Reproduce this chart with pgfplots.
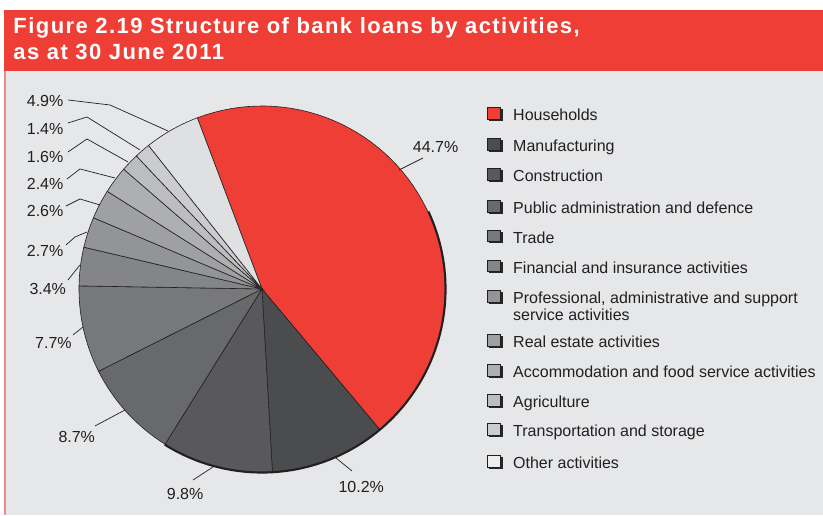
\documentclass[border=0pt]{standalone}
\usepackage{pgfplots}
\pgfplotsset{compat=1.18}
\usepackage{pgfplotstable}
\usepackage{fontspec}
\setmainfont{Liberation Sans}
\newfontfamily\titlefont[LetterSpace=6.5]{Liberation Sans}

\definecolor{titlered}{HTML}{EE3E35}
\definecolor{bodybg}{HTML}{E6E7E8}
\definecolor{pinkline}{HTML}{F08A8A}
\definecolor{txt}{HTML}{231F20}
\definecolor{pieline}{HTML}{231F20}
\definecolor{cHH}{HTML}{EE3E35}
\definecolor{cMA}{HTML}{4B4C4E}
\definecolor{cCO}{HTML}{59595B}
\definecolor{cPA}{HTML}{68696B}
\definecolor{cTR}{HTML}{77787A}
\definecolor{cFI}{HTML}{848587}
\definecolor{cPR}{HTML}{939496}
\definecolor{cRE}{HTML}{9FA0A2}
\definecolor{cAC}{HTML}{AEAFB1}
\definecolor{cAG}{HTML}{BCBDBF}
\definecolor{cTS}{HTML}{CBCCCE}
\definecolor{cOT}{HTML}{DFE0E2}
\definecolor{cOTleg}{HTML}{EDEDEE}

% share of bank loans by activity, %
\pgfplotstableread[col sep=comma]{
sector,value,col
Households,44.7,cHH
Manufacturing,10.2,cMA
Construction,9.8,cCO
PublicAdmin,8.7,cPA
Trade,7.7,cTR
Financial,3.4,cFI
Professional,2.7,cPR
RealEstate,2.6,cRE
Accommodation,2.4,cAC
Agriculture,1.6,cAG
Transportation,1.4,cTS
Other,4.9,cOT
}\piedata

\begin{document}
\begin{tikzpicture}
% background and title bar (1 unit = 1bp = 1 px of the reference)
\begin{scope}[x=1bp,y=1bp]
\fill[white] (0,0) rectangle (823,516);
\fill[titlered] (4.3,506) rectangle (823,445);
\fill[bodybg] (6,445) rectangle (823,1);
\fill[pinkline] (4.3,445) rectangle (6,1);
\node[anchor=base west, text=white, inner sep=0pt,
      font=\titlefont\bfseries\fontsize{22bp}{24bp}\selectfont] at (13.3,482.7)
      {Figure 2.19 Structure of bank loans by activities,};
\node[anchor=base west, text=white, inner sep=0pt,
      font=\titlefont\bfseries\fontsize{22bp}{24bp}\selectfont] at (13.3,456.5)
      {as at 30 June 2011};
\end{scope}
\begin{axis}[at={(0,0)}, anchor=south west,
  width=823bp, height=516bp, scale only axis,
  xmin=0, xmax=823, ymin=0, ymax=516,
  hide axis, clip=false]
\pgfplotstablegetrowsof{\piedata}
\pgfmathtruncatemacro\lastrow{\pgfplotsretval-1}
\def\cum{0}
\pgfplotsforeachungrouped \i in {0,...,\lastrow}{%
  \pgfplotstablegetelem{\i}{value}\of\piedata
  \let\myval\pgfplotsretval
  \pgfplotstablegetelem{\i}{col}\of\piedata
  \let\mycol\pgfplotsretval
  \pgfmathsetmacro\aS{110.7-\cum*3.5964036}
  \pgfmathsetmacro\aE{110.7-(\cum+\myval)*3.5964036}
  \pgfmathsetmacro\cum{\cum+\myval}
  \edef\temp{\noexpand\addplot[fill=\mycol, draw=pieline, line width=0.6bp,
     domain=\aE:\aS, samples=60]
     ({262+183*cos(x)},{227+183*sin(x)}) -- (262,227) -- cycle;}
  \temp
}
% darker rim at lower right
\addplot[draw=pieline, line width=2bp, domain=-122:25, samples=80]
  ({262+183.6*cos(x)},{227+183.6*sin(x)});

% leader lines
\begin{scope}[draw=pieline, line width=0.7bp]
\draw (68,416) -- (110,411) -- (168,385);
\draw (68,393) -- (87,399) -- (140,366);
\draw (68,364) -- (87,377) -- (128,354);
\draw (67,337) -- (80,347) -- (115,338);
\draw (66,310) -- (80,317) -- (100,311);
\draw (66,271) -- (75,279) -- (87,284);
\draw (68,236) -- (80,251);
\draw (73,181) -- (83,189);
\draw (95,90) -- (125,106);
\draw (193,36) -- (213,49);
\draw (352,45) -- (336,58);
\draw (423,358) -- (399,346);
\end{scope}

% slice labels
\begin{scope}[every node/.style={anchor=base west, inner sep=0pt, text=txt,
   font=\fontsize{16bp}{19bp}\selectfont}]
\node at (26.7,409.3) {4.9\%};
\node at (26.7,381.7) {1.4\%};
\node at (26.7,353.3) {1.6\%};
\node at (26.7,326.7) {2.4\%};
\node at (26.7,299) {2.6\%};
\node at (26.7,259.3) {2.7\%};
\node at (29.3,221) {3.4\%};
\node at (35,167.7) {7.7\%};
\node at (58.3,73.3) {8.7\%};
\node at (166.7,16.7) {9.8\%};
\node at (338.3,23.3) {10.2\%};
\node at (412.7,363.7) {44.7\%};
\end{scope}
\end{axis}

% legend
\begin{scope}[x=1bp,y=1bp, every node/.style={anchor=base west, inner sep=0pt, text=txt,
   font=\fontsize{16bp}{19bp}\selectfont}]
\foreach \b/\c/\t in {
  121/cHH/Households,
  151.7/cMA/Manufacturing,
  181.7/cCO/Construction,
  214/cPA/Public administration and defence,
  243.3/cTR/Trade,
  273.3/cFI/Financial and insurance activities,
  304/cPR/{Professional, administrative and support},
  347.7/cRE/Real estate activities,
  377.7/cAC/Accommodation and food service activities,
  407.7/cAG/Agriculture,
  436.7/cTS/Transportation and storage,
  469/cOTleg/Other activities}{
  \pgfmathsetmacro\yb{516-\b}
  \fill[black!85] (489.3,\yb) rectangle (502.5,\yb+11.5);
  \filldraw[fill=\c, draw=pieline, line width=0.5bp] (487.3,\yb+1.8) rectangle (500.5,\yb+13.3);
  \node at (513,\yb) {\t};
}
\node at (513,195.3) {service activities};
\end{scope}
\end{tikzpicture}
\end{document}
